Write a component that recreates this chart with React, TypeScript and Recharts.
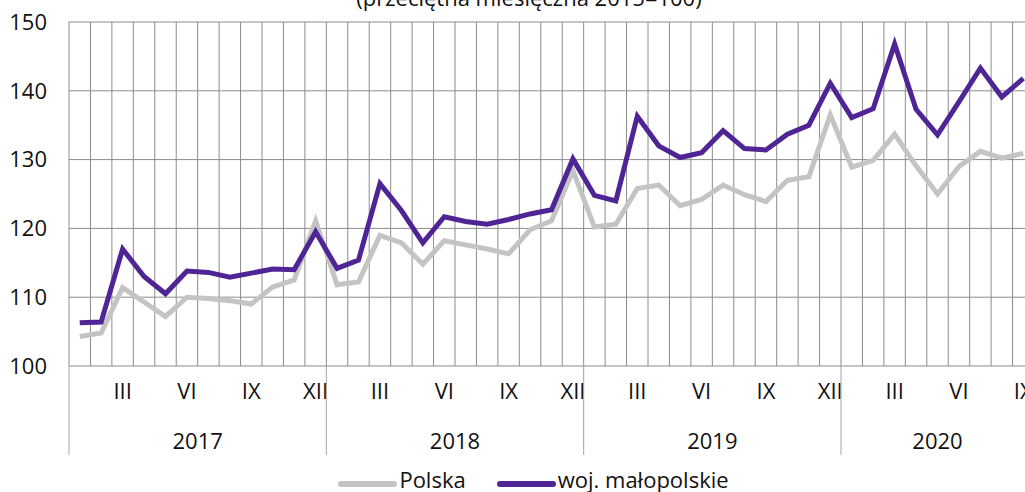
import React from 'react';
import { LineChart, Line, XAxis, YAxis, CartesianGrid, Legend } from 'recharts';

const years = ['2017', '2018', '2019', '2020'];
const monthsPerYear = [12, 12, 12, 9];
const romanMonths = ['I', 'II', 'III', 'IV', 'V', 'VI', 'VII', 'VIII', 'IX', 'X', 'XI', 'XII'];
const shownMonths = ['III', 'VI', 'IX', 'XII'];

const polska = [
  104.3, 104.8, 111.4, 109.3, 107.2, 110.0, 109.8, 109.5, 109.0, 111.5, 112.5, 121.1,
  111.8, 112.2, 119.0, 117.9, 114.8, 118.2, 117.6, 117.0, 116.3, 119.8, 121.1, 128.4,
  120.2, 120.6, 125.8, 126.3, 123.3, 124.2, 126.3, 124.9, 123.9, 127.0, 127.5, 136.5,
  128.9, 129.9, 133.7, 129.1, 125.0, 129.0, 131.2, 130.2, 130.9,
];
const malopolskie = [
  106.3, 106.4, 117.0, 113.0, 110.5, 113.8, 113.6, 112.9, 113.5, 114.1, 114.0, 119.5,
  114.2, 115.4, 126.5, 122.6, 117.9, 121.7, 121.0, 120.6, 121.3, 122.1, 122.7, 130.1,
  124.8, 124.0, 136.3, 132.0, 130.3, 131.0, 134.2, 131.6, 131.4, 133.7, 135.0, 141.1,
  136.1, 137.4, 146.8, 137.3, 133.6, 138.4, 143.3, 139.1, 141.8,
];
const yTicks = [100, 110, 120, 130, 140, 150];

const seriesNames = ['Polska', 'woj. małopolskie'];
const seriesColors = ['#c4c4c4', '#4f2596'];

const FONT = '"Open Sans", sans-serif';

// build table and axis tick descriptions
const data = polska.map((v, i) => ({ idx: i, polska: v, malopolskie: malopolskie[i] }));
const total = polska.length;
const boundaries: number[] = [];
for (let i = 0; i <= total; i++) boundaries.push(i - 0.5);

type LabelInfo = { kind: 'sep' | 'month' | 'year'; text: string };
const labelMap = new Map<number, LabelInfo>();
{
  let start = 0;
  years.forEach((y, yi) => {
    const n = monthsPerYear[yi];
    labelMap.set(start - 0.5, { kind: 'sep', text: '' });
    for (let m = 0; m < n; m++) {
      if (shownMonths.includes(romanMonths[m])) {
        labelMap.set(start + m, { kind: 'month', text: romanMonths[m] });
      }
    }
    labelMap.set(start + (n - 1) / 2, { kind: 'year', text: y });
    start += n;
  });
  labelMap.set(start - 0.5, { kind: 'sep', text: '' });
}
const labelTicks = Array.from(labelMap.keys()).sort((a, b) => a - b);

const EmptyTick = () => <g />;

const LabelTick = (props: any) => {
  const { x, y, payload } = props;
  const info = labelMap.get(payload.value);
  if (!info) return <g />;
  if (info.kind === 'sep') {
    return <line x1={x} x2={x} y1={y} y2={y + 89} stroke="#a6a6a6" strokeWidth={1} />;
  }
  const dy = info.kind === 'month' ? 33 : 83;
  return (
    <text x={x} y={y + dy} textAnchor="middle" fill="#111" fontSize={22} fontFamily={FONT}>
      {info.text}
    </text>
  );
};

const LegendContent = () => (
  <div
    style={{
      height: 36,
      boxSizing: 'border-box',
      display: 'flex',
      justifyContent: 'center',
      alignItems: 'flex-start',
      paddingTop: 12,
      fontFamily: FONT,
      fontSize: 22,
      lineHeight: '22px',
      color: '#111',
    }}
  >
    {seriesNames.map((name, i) => (
      <div key={name} style={{ display: 'flex', alignItems: 'flex-start', marginRight: i === 0 ? 30 : 0 }}>
        <svg width={60} height={10} style={{ marginTop: 11, marginRight: 2 }}>
          <line x1={4} x2={57} y1={5} y2={5} stroke={seriesColors[i]} strokeWidth={6} strokeLinecap="round" />
        </svg>
        <span>{name}</span>
      </div>
    ))}
  </div>
);

export default function App() {
  return (
    <div style={{ position: 'absolute', top: 0, left: 0, width: 1025, height: 492, overflow: 'hidden', background: '#fff' }}>
      <svg width={1025} height={30} style={{ position: 'absolute', top: 0, left: 0 }}>
        <text x={529} y={6} textAnchor="middle" fontSize={22} fontFamily={FONT} fill="#111">
          (przeciętna miesięczna 2015=100)
        </text>
      </svg>
      <LineChart width={1040} height={492} data={data} margin={{ top: 22, right: 6, left: 0, bottom: 0 }}>
        <CartesianGrid stroke="#8c8c8c" strokeWidth={1} />
        <XAxis
          dataKey="idx"
          type="number"
          domain={[-0.5, total - 0.5]}
          ticks={boundaries}
          interval={0}
          height={0}
          tick={<EmptyTick />}
          axisLine={false}
          tickLine={false}
        />
        <XAxis
          xAxisId="lbl"
          dataKey="idx"
          type="number"
          domain={[-0.5, total - 0.5]}
          ticks={labelTicks}
          interval={0}
          height={90}
          axisLine={false}
          tickLine={false}
          tickSize={0}
          tickMargin={0}
          tick={<LabelTick />}
        />
        <YAxis
          domain={[100, 150]}
          ticks={yTicks}
          interval={0}
          width={69}
          axisLine={false}
          tickLine={false}
          tickSize={0}
          tickMargin={22}
          tick={{ fill: '#111', fontSize: 22, fontFamily: FONT }}
        />
        <Legend verticalAlign="bottom" content={<LegendContent />} wrapperStyle={{ left: 0, width: 1066, bottom: 0 }} />
        <Line dataKey="polska" name={seriesNames[0]} stroke={seriesColors[0]} strokeWidth={5} dot={false} isAnimationActive={false} />
        <Line dataKey="malopolskie" name={seriesNames[1]} stroke={seriesColors[1]} strokeWidth={5} dot={false} isAnimationActive={false} />
      </LineChart>
    </div>
  );
}
